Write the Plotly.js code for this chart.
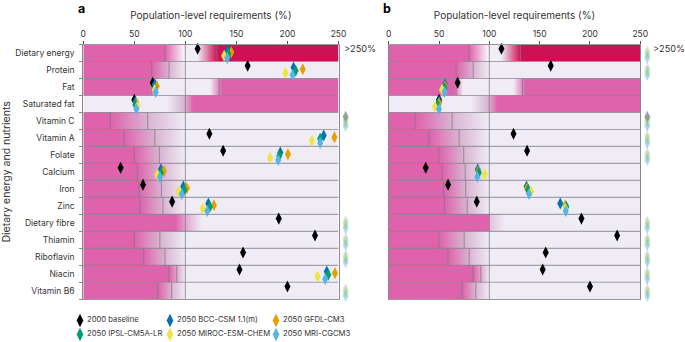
<!DOCTYPE html>
<html><head><meta charset="utf-8">
<script src="https://cdn.plot.ly/plotly-3.0.1.min.js"></script>
<style>html,body{margin:0;padding:0;background:#fff}#c{width:685px;height:342px}</style>
</head><body><div id="c"></div>
<script>
const FONT = 'Inter, "Noto Sans", sans-serif';
const nutrients = ['Dietary energy','Protein','Fat','Saturated fat','Vitamin C','Vitamin A','Folate','Calcium','Iron','Zinc','Dietary fibre','Thiamin','Riboflavin','Niacin','Vitamin B6'];
const OVER = 257; // values beyond the axis (">250%")
const P='#df62ac', L='#efecf5', C='#cb1354', M='#d9b3d2';

// Requirement reference lines per nutrient
const lineLow  = [80,67,67,null,26.5,40,50,53,54.5,55.5,null,50,59,84,73];
const lineHigh = [131,84,133,null,63,70,74.5,76,76.5,78,null,75,80,91.5,86.5];

// Colour stops per nutrient (value, colour)
const bandsA = [
 [[0,P],[80,P],[98,'#f6eff5'],[112,L],[131,C],[250,C]],
 [[0,P],[67,P],[84,M],[100,L],[250,L]],
 [[0,P],[65,P],[74,L],[124,L],[136,P],[250,P]],
 [[0,L],[82,L],[100,'#d9aed0'],[108,P],[250,P]],
 [[0,P],[26.5,P],[63,M],[100,L],[250,L]],
 [[0,P],[40,P],[70,M],[100,L],[250,L]],
 [[0,P],[50,P],[74.5,M],[100,L],[250,L]],
 [[0,P],[53,P],[76,M],[100,L],[250,L]],
 [[0,P],[54.5,P],[76.5,M],[100,L],[250,L]],
 [[0,P],[55.5,P],[78,M],[100,L],[250,L]],
 [[0,P],[90,P],[100,'#e3a3cf'],[116,L],[250,L]],
 [[0,P],[50,P],[75,M],[100,L],[250,L]],
 [[0,P],[59,P],[80,M],[100,L],[250,L]],
 [[0,P],[84,P],[91.5,'#dfa5cd'],[100,L],[250,L]],
 [[0,P],[73,P],[86.5,M],[100,L],[250,L]]
];
const bandsB = bandsA.map((b,i)=> i===10 ? [[0,P],[99,P],[101,'#e4c4de'],[116,L],[250,L]] : b);

// Panel a
const a_base = [112,161,68,50,OVER,123.5,137,36.6,58.5,87,191.5,227,156.5,153,200];
const a_bcc  = [141.5,206,70,51,OVER,235.5,193,76,98,122.5,OVER,OVER,OVER,238.5,OVER];
const a_gfdl = [145,215,72,52,OVER,246,200.5,79,101.5,128,OVER,OVER,OVER,246.5,OVER];
const a_ipsl = [142,208,70,51,OVER,232,192,76,99,124,OVER,OVER,OVER,240,OVER];
const a_miroc= [138,198,70,53,OVER,224,183,72.5,93,117,OVER,OVER,OVER,229.5,OVER];
const a_mri  = [141,205,71,52,OVER,232,191,75,96.5,121.5,OVER,OVER,OVER,237,OVER];
// Panel b
const b_base = [112,161,68.5,50,OVER,124,137.5,36.8,59,87.5,191.5,227,156,153,200];
const b_bcc  = [OVER,OVER,56,50,OVER,OVER,OVER,88.5,137,170.5,OVER,OVER,OVER,OVER,OVER];
const b_gfdl = [OVER,OVER,56,50,OVER,OVER,OVER,89,137.5,175.5,OVER,OVER,OVER,OVER,OVER];
const b_ipsl = [OVER,OVER,55.5,48.5,OVER,OVER,OVER,89.5,138.5,176.5,OVER,OVER,OVER,OVER,OVER];
const b_miroc= [OVER,OVER,53,46,OVER,OVER,OVER,95.5,141.5,175.5,OVER,OVER,OVER,OVER,OVER];
const b_mri  = [OVER,OVER,55.5,50,OVER,OVER,OVER,88,139.5,176,OVER,OVER,OVER,OVER,OVER];

const seriesNames = ['2000 baseline','2050 BCC-CSM 1.1(m)','2050 GFDL-CM3','2050 IPSL-CM5A-LR','2050 MIROC-ESM-CHEM','2050 MRI-CGCM3'];
const seriesColors = ['#000000','#0072b2','#e69f00','#009e73','#f0e442','#56b4e9'];
const seriesOffset = [-0.25,-0.14,-0.04,0.05,0.16,0.3];
const overOpacity = [0.35,0.1,0.1,0.2,0.3,0.45];
const panelA = [a_base,a_bcc,a_gfdl,a_ipsl,a_miroc,a_mri];
const panelB = [b_base,b_bcc,b_gfdl,b_ipsl,b_miroc,b_mri];

const GRID='rgba(125,122,128,0.68)';
const traces=[];
function panel(xa,xOver,ya,bands,series){
  bands.forEach((stops,i)=>{
    traces.push({type:'scatter',mode:'none',x:[0,250,250,0,0],y:[i,i,i+1,i+1,i],xaxis:xa,yaxis:ya,
      fill:'toself',hoverinfo:'skip',showlegend:false,
      fillgradient:{type:'horizontal',colorscale:stops.map(s=>[s[0]/250,s[1]])}});
  });
  const lx=[],ly=[];
  for(let i=1;i<nutrients.length;i++){lx.push(0,250,null);ly.push(i,i,null);}
  nutrients.forEach((n,i)=>{
    [lineLow[i],lineHigh[i]].forEach(v=>{ if(v!==null){lx.push(v,v,null);ly.push(i,i+1,null);} });
  });
  lx.push(100,100,null);ly.push(0,nutrients.length,null);
  traces.push({type:'scatter',mode:'lines',x:lx,y:ly,xaxis:xa,yaxis:ya,hoverinfo:'skip',showlegend:false,
    connectgaps:false,line:{color:GRID,width:1.1}});
  series.forEach((vals,s)=>{
    const ys=vals.map((v,i)=>i+0.5+seriesOffset[s]);
    // in-range values on the main axis
    traces.push({type:'scatter',mode:'markers',name:seriesNames[s],x:vals.map(v=>v>250?null:v),y:ys,
      xaxis:xa,yaxis:ya,cliponaxis:false,showlegend:false,
      marker:{symbol:'diamond-tall',size:8.6,color:seriesColors[s],line:{width:0}}});
    // values beyond 250% in the strip right of the panel, faded
    traces.push({type:'scatter',mode:'markers',name:seriesNames[s]+' >250%',x:vals.map(v=>v>250?v:null),y:ys,
      xaxis:xOver,yaxis:ya,cliponaxis:false,showlegend:false,
      marker:{symbol:'diamond-tall',size:8.6,color:seriesColors[s],opacity:overOpacity[s],line:{width:0}}});
  });
}
panel('x','x4','y',bandsA,panelA);
panel('x2','x5','y2',bandsB,panelB);

// Key drawn on an overlay axis measured in page units
const keyCol=[80,170,276], keyRow=[320.5,334.5];
const keySlots=[[0,0],[1,0],[2,0],[0,1],[1,1],[2,1]];
const keyOrder=[0,1,2,3,4,5];
traces.push({type:'scatter',mode:'markers+text',xaxis:'x3',yaxis:'y3',showlegend:false,hoverinfo:'skip',cliponaxis:false,
  x:keySlots.map(s=>keyCol[s[0]]),y:keySlots.map(s=>keyRow[s[1]]),
  text:keyOrder.map(k=>seriesNames[k]),textposition:'middle right',
  textfont:{family:FONT,size:7.7,color:'#333'},
  marker:{symbol:'diamond-tall',size:9.5,color:keyOrder.map(k=>seriesColors[k]),line:{width:0}}});

const W=685,H=342;
const yDom=[(H-299.3)/H,(H-44.5)/H];
const xBase={range:[0,250],tickvals:[0,50,100,150,200,250],side:'top',ticks:'outside',ticklen:3,tickcolor:'#555',tickwidth:1,
  showgrid:false,zeroline:false,showline:true,linecolor:'#98959b',linewidth:1,mirror:true,anchor:'y',
  tickfont:{family:FONT,size:8.5,color:'#333'},
  title:{text:'Population-level requirements (%)',font:{family:FONT,size:10,color:'#333'},standoff:7}};
const rowEdges=nutrients.map((n,i)=>i).concat([nutrients.length]);
const rowMid=nutrients.map((n,i)=>i+0.5);
const stripA=[338.5,352], stripB=[640.3,654];
const layout={width:W,height:H,margin:{l:0,r:0,t:0,b:0},paper_bgcolor:'#fff',plot_bgcolor:'rgba(0,0,0,0)',showlegend:false,hovermode:false,
  xaxis:Object.assign({},xBase,{domain:[83.3/W,338.5/W],anchor:'y'}),
  xaxis2:Object.assign({},xBase,{domain:[388.7/W,640.3/W],anchor:'y2'}),
  xaxis3:{domain:[0,1],range:[0,W],visible:false,fixedrange:true,anchor:'y3'},
  xaxis4:{domain:stripA.map(v=>v/W),range:[250,250+(stripA[1]-stripA[0])/(255.2/250)],visible:false,anchor:'y'},
  xaxis5:{domain:stripB.map(v=>v/W),range:[250,250+(stripB[1]-stripB[0])/(251.6/250)],visible:false,anchor:'y2'},
  yaxis:{domain:yDom,range:[15,0],tickvals:rowMid,ticktext:nutrients,ticks:'outside',ticklen:6,tickcolor:'rgba(0,0,0,0)',
    showgrid:false,zeroline:false,showline:true,linecolor:'#8a878d',linewidth:1,mirror:true,anchor:'x',
    tickfont:{family:FONT,size:8.5,color:'#333'},
    minor:{tickvals:rowEdges,ticks:'outside',ticklen:3,tickcolor:'#888',showgrid:false},
    title:{text:'Dietary energy and nutrients',font:{family:FONT,size:10.5,color:'#333'},standoff:5}},
  yaxis2:{domain:yDom,range:[15,0],showticklabels:false,ticks:'',showgrid:false,zeroline:false,showline:true,linecolor:'#8a878d',linewidth:1,mirror:true,anchor:'x2'},
  yaxis3:{domain:[0,36/H],range:[H,H-36],visible:false,fixedrange:true,anchor:'x3'},
  annotations:[
    {xref:'paper',yref:'paper',x:76/W,y:1-9/H,text:'<b>a</b>',showarrow:false,xanchor:'left',yanchor:'middle',font:{family:FONT,size:12.5,color:'#000'}},
    {xref:'paper',yref:'paper',x:381/W,y:1-8/H,text:'<b>b</b>',showarrow:false,xanchor:'left',yanchor:'middle',font:{family:FONT,size:12.5,color:'#000'}},
    {xref:'paper',yref:'paper',x:342/W,y:1-49/H,text:'>250%',showarrow:false,xanchor:'left',yanchor:'middle',font:{family:FONT,size:9.2,color:'#333'}},
    {xref:'paper',yref:'paper',x:651/W,y:1-49/H,text:'>250%',showarrow:false,xanchor:'left',yanchor:'middle',font:{family:FONT,size:9.2,color:'#333'}}
  ]};
Plotly.newPlot('c',traces,layout,{displayModeBar:false,staticPlot:true});
</script></body></html>
